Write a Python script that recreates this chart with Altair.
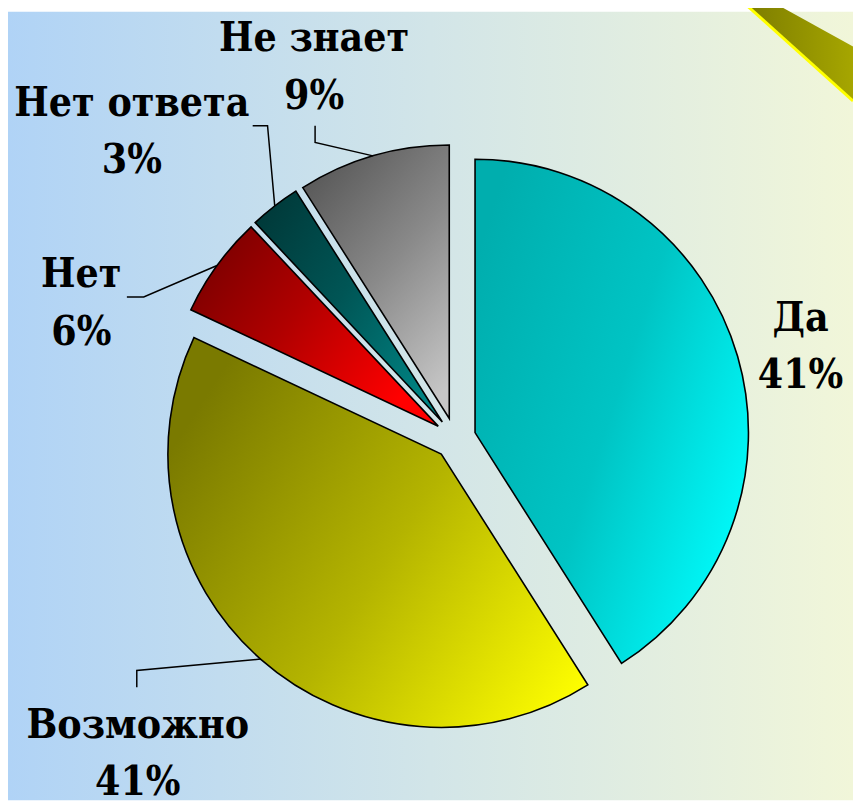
import math
import altair as alt
import pandas as pd

# ---------------- data ----------------
categories = ["Да", "Возможно", "Нет", "Нет ответа", "Не знает"]
values = [41, 41, 6, 3, 9]

# ---------------- layout ----------------
W, H = 853, 796          # whole chart (page has an 8px margin)
OFF = 8
CX, CY = 459.3 - OFF, 438.7 - OFF   # pie centre
R = 276                  # pie radius
EXPLODE = 21             # radial offset of every slice

label_pos = {            # centre x, first baseline y (page coordinates)
    "Да": (808, 330),
    "Возможно": (139, 741),
    "Нет": (82, 286),
    "Нет ответа": (133, 113),
    "Не знает": (317, 48),
}
leader_elbows = {        # bend and end of each leader line (page coordinates)
    "Не знает": [(318, 140), (318, 123)],
    "Нет ответа": [(270, 123), (255, 123)],
    "Нет": [(145, 296), (128, 296)],
    "Возможно": [(138, 673), (138, 690)],
}
gradients = {
    "Да": (["#00aeae", "#00c4c4", "#00ffff"], (0, 0.2, 1, 0.8)),
    "Возможно": (["#7a7a00", "#b4b400", "#ffff00"], (0, 0.3, 1, 0.9)),
    "Нет": (["#6e0000", "#b00000", "#ff0000"], (0, 0, 1, 0.6)),
    "Нет ответа": (["#003535", "#005555", "#008484"], (0, 0, 1, 0.8)),
    "Не знает": (["#575757", "#8a8a8a", "#c6c6c6"], (0.2, 0, 0.8, 1)),
}
FONT = "DejaVu Serif Condensed"

total = sum(values)
rows, edge = [], {}
cum = 0
for c, v in zip(categories, values):
    start, end = cum, cum + v
    cum = end
    mid = (start + end) / 2 / total * 2 * math.pi
    cx = CX + EXPLODE * math.sin(mid)
    cy = CY - EXPLODE * math.cos(mid)
    edge[c] = (cx + R * math.sin(mid), cy - R * math.cos(mid))
    lx, ly = label_pos[c]
    rows.append(dict(cat=c, value=v, start=start, end=end, cx=cx, cy=cy,
                     lx=lx - OFF, ly=ly - OFF, label=f"{c}\n{v}%"))
pie_df = pd.DataFrame(rows)

lead_rows = []
for c, pts in leader_elbows.items():
    allpts = [edge[c]] + [(x - OFF, y - OFF) for x, y in pts]
    for i, (x, y) in enumerate(allpts):
        lead_rows.append(dict(cat=c, i=i, x=x, y=y))
lead_df = pd.DataFrame(lead_rows)


def grad(colors, coords):
    x1, y1, x2, y2 = coords
    n = len(colors) - 1
    return alt.Gradient(
        gradient="linear",
        stops=[alt.GradientStop(offset=i / n, color=col) for i, col in enumerate(colors)],
        x1=x1, y1=y1, x2=x2, y2=y2,
    )


# background
bg = alt.Chart(pd.DataFrame({"a": [0]})).mark_rect(
    fill=grad(["#b0d3f6", "#d2e5e8", "#f1f6d9"], (0, 0, 1, 0))
).encode(x=alt.value(0), x2=alt.value(W), y=alt.value(0), y2=alt.value(H))

# decorative band in the top-right corner
deco_df = pd.DataFrame({"x": [744, 775, 853], "y": [-8, -8, 35], "y2": [-8, 19.9, 90]})
deco = alt.Chart(deco_df).mark_area(
    fill=grad(["#7c7c00", "#a6a600"], (0, 0, 1, 0)), interpolate="linear"
).encode(x=alt.X("x:Q", scale=None), y=alt.Y("y:Q", scale=None), y2="y2:Q")
deco_line = alt.Chart(pd.DataFrame({"x": [744], "x2": [853], "y": [-8], "y2": [90]})).mark_rule(
    color="#ffff00", strokeWidth=3
).encode(x=alt.X("x:Q", scale=None), x2="x2:Q", y=alt.Y("y:Q", scale=None), y2="y2:Q")

# slices
slices = []
for c in categories:
    cols, coords = gradients[c]
    slices.append(
        alt.Chart(pie_df)
        .transform_filter(alt.datum.cat == c)
        .mark_arc(radius=R, fill=grad(cols, coords), stroke="black", strokeWidth=1.6)
        .encode(
            theta=alt.Theta("start:Q", scale=alt.Scale(domain=[0, total])),
            theta2="end:Q",
            x=alt.X("cx:Q", scale=None),
            y=alt.Y("cy:Q", scale=None),
        )
    )

leaders = alt.Chart(lead_df).mark_line(color="black", strokeWidth=1.5).encode(
    x=alt.X("x:Q", scale=None), y=alt.Y("y:Q", scale=None),
    detail="cat:N", order="i:O",
)

labels = alt.Chart(pie_df).mark_text(
    font=FONT, fontWeight="bold", fontSize=41, lineBreak="\n",
    lineHeight=58, align="center", baseline="alphabetic", color="black",
).encode(x=alt.X("lx:Q", scale=None), y=alt.Y("ly:Q", scale=None), text="label:N")

chart = alt.layer(bg, deco, deco_line, *slices, leaders, labels).properties(
    width=W, height=H, padding=0, autosize=alt.AutoSizeParams(type="none")
).configure(font=FONT).configure_view(stroke=None)

chart.save("out.html", embed_options={"renderer": "svg", "actions": False})
